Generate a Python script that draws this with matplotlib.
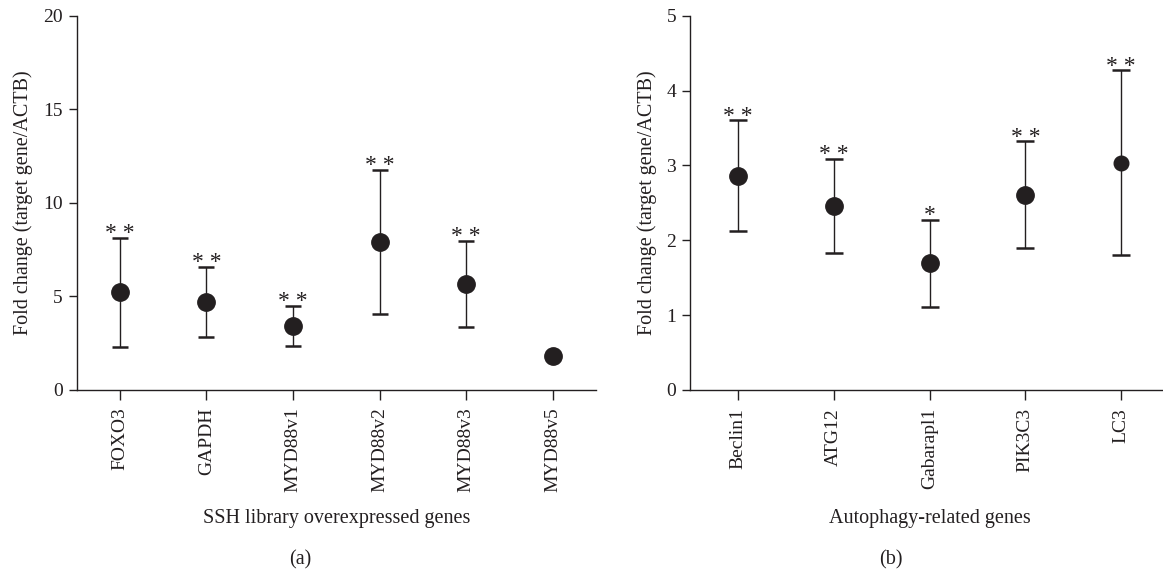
import matplotlib.pyplot as plt
import numpy as np

plt.rcParams['font.family'] = ['Liberation Serif', 'DejaVu Serif']

# (a) SSH library overexpressed genes
genes_a = ['FOXO3', 'GAPDH', 'MYD88v1', 'MYD88v2', 'MYD88v3', 'MYD88v5']
mean_a = [5.2, 4.67, 3.40, 7.88, 5.64, 1.79]
upper_a = [8.1, 6.57, 4.47, 11.74, 7.95, 1.85]
lower_a = [2.29, 2.79, 2.34, 4.04, 3.36, 1.73]
stars_a = ['* *', '* *', '* *', '* *', '* *', '']

# (b) Autophagy-related genes
genes_b = ['Beclin1', 'ATG12', 'Gabarapl1', 'PIK3C3', 'LC3']
mean_b = [2.86, 2.46, 1.69, 2.60, 3.03]
upper_b = [3.60, 3.09, 2.27, 3.32, 4.27]
lower_b = [2.12, 1.83, 1.11, 1.90, 1.80]
stars_b = ['* *', '* *', '*', '* *', '* *']
msize_b = [12.5, 12.5, 12.5, 12.5, 10.5]

ink = '#231f20'

fig = plt.figure(figsize=(11.63, 5.73), dpi=100)
ax1 = fig.add_axes([0.0659, 0.3202, 0.4466, 0.6524])
ax2 = fig.add_axes([0.5933, 0.3194, 0.4119, 0.6532])


def draw_panel(ax, genes, mean, upper, lower, stars, ymax, yticks, msizes, cap):
    x = np.arange(len(genes))
    mean = np.array(mean)
    yerr = [mean - np.array(lower), np.array(upper) - mean]
    for i in range(len(genes)):
        ax.errorbar(x[i], mean[i], yerr=[[yerr[0][i]], [yerr[1][i]]], fmt='o',
                    color=ink, ecolor=ink, markersize=msizes[i], elinewidth=1.0,
                    capsize=cap, capthick=1.8, zorder=3)
        if stars[i]:
            ax.annotate(stars[i], (x[i], upper[i]), xytext=(0, -4.5),
                        textcoords='offset points', ha='center', va='bottom',
                        fontsize=17, color=ink)
    ax.set_xlim(-0.5, len(genes) - 0.5)
    ax.set_ylim(0, ymax)
    ax.set_yticks(yticks)
    ax.set_xticks(x)
    ax.set_xticklabels(genes, rotation=90, fontsize=14, color=ink)
    ax.tick_params(axis='y', labelsize=14, labelcolor=ink, length=6,
                   width=1.0, color=ink, pad=4)
    ax.tick_params(axis='x', length=7, width=1.0, color=ink, pad=6)
    for s in ['top', 'right']:
        ax.spines[s].set_visible(False)
    for s in ['left', 'bottom']:
        ax.spines[s].set_color(ink)
        ax.spines[s].set_linewidth(1.0)
    ax.spines['bottom'].set_clip_on(False)
    ax.set_ylabel('Fold change (target gene/ACTB)', fontsize=14.5, color=ink, labelpad=7)


draw_panel(ax1, genes_a, mean_a, upper_a, lower_a, stars_a, 20, [0, 5, 10, 15, 20],
           [12.5] * len(genes_a), 5.8)
draw_panel(ax2, genes_b, mean_b, upper_b, lower_b, stars_b, 5, [0, 1, 2, 3, 4, 5],
           msize_b, 6.7)

fig.text(337 / 1163, 1 - 519 / 573, 'SSH library overexpressed genes', ha='center',
         va='center', fontsize=14.5, color=ink)
fig.text(930 / 1163, 1 - 519 / 573, 'Autophagy-related genes', ha='center',
         va='center', fontsize=14.5, color=ink)
fig.text(300 / 1163, 1 - 560 / 573, '(a)', ha='center', va='center', fontsize=14.5, color=ink)
fig.text(891 / 1163, 1 - 560 / 573, '(b)', ha='center', va='center', fontsize=14.5, color=ink)

fig.savefig('out.png', dpi=100)
